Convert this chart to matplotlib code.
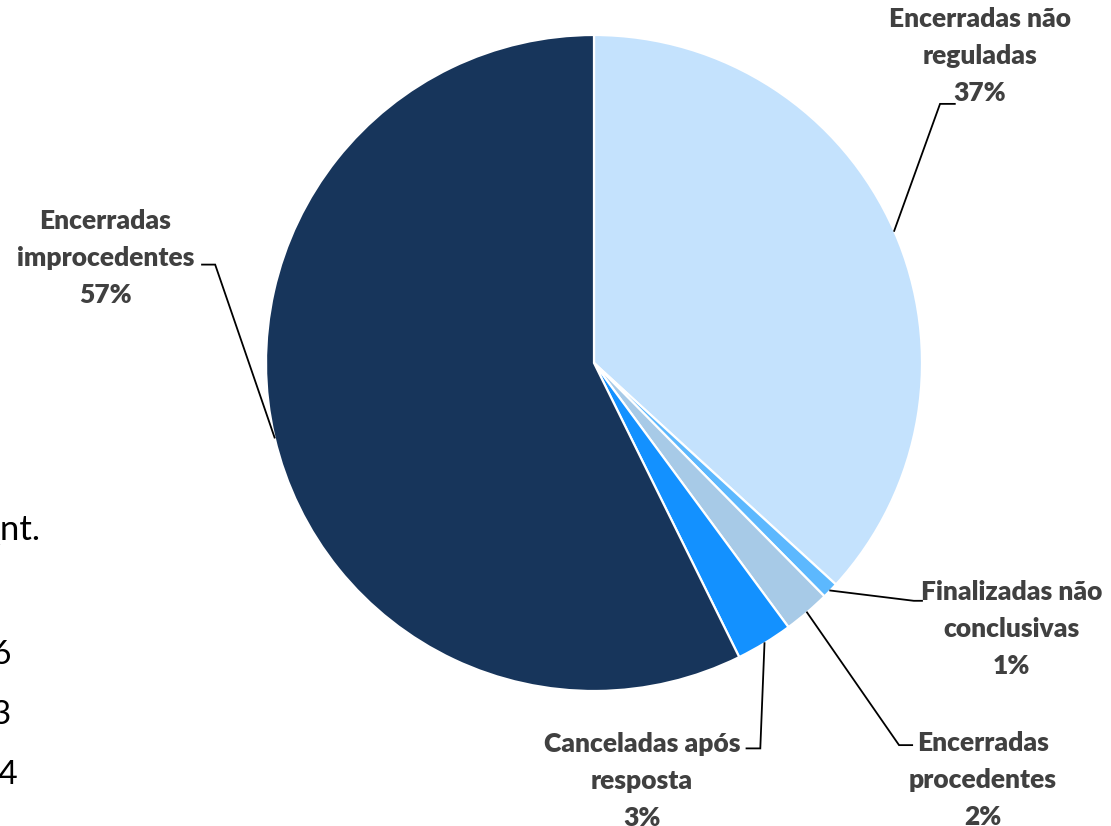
import numpy as np
import matplotlib
matplotlib.use("Agg")
import matplotlib.pyplot as plt

# Distribuição das reclamações por situação final (%)
categorias = ["Encerradas não\nreguladas", "Finalizadas não\nconclusivas",
              "Encerradas\nprocedentes", "Canceladas após\nresposta",
              "Encerradas\nimprocedentes"]
valores = [36.8, 0.8, 2.3, 2.8, 57.3]
cores = ["#C4E2FD", "#5CB8FE", "#A7CAE7", "#1391FF", "#17355B"]

# fragmentos da tabela vizinha (cortada na borda esquerda)
tabela_cab = "Qnt."
tabela_num = ["1.236", "213", "94", "75"]

# posição do texto (centro da linha do meio) e da linha de chamada, em raios
pos_texto = [(1.177, 0.935), (1.274, -0.81), (1.186, -1.271), (0.146, -1.275), (-1.49, 0.32)]
cotovelo = [(1.055, 0.79), (0.975, -0.725), (0.93, -1.165), (0.507, -1.175), (-1.155, 0.30)]
fim_linha = [(1.10, 0.79), (1.0, -0.725), (0.97, -1.165), (0.465, -1.175), (-1.195, 0.30)]

plt.rcParams["font.family"] = ["Lato", "DejaVu Sans"]

fig = plt.figure(figsize=(11.11, 8.26), dpi=100)
ax = fig.add_axes([0, 0, 1, 1])

wedges, _ = ax.pie(valores, colors=cores, startangle=90, counterclock=False,
                   radius=1.0, center=(0, 0),
                   wedgeprops=dict(edgecolor="white", linewidth=1.6))

total = sum(valores)
for w, cat, v, (tx, ty), (ex, ey), (fx, fy) in zip(wedges, categorias, valores,
                                                   pos_texto, cotovelo, fim_linha):
    ang = np.deg2rad((w.theta1 + w.theta2) / 2)
    px, py = np.cos(ang), np.sin(ang)
    ax.plot([px, ex, fx], [py, ey, fy], color="black", lw=1.3,
            solid_joinstyle="miter", zorder=3)
    pct = round(v / total * 100)
    ax.text(tx, ty, f"{cat}\n{pct}%", ha="center", va="center",
            multialignment="center", fontsize=19, fontweight="heavy",
            color="#404040", linespacing=1.65)

# tabela cortada à esquerda
ax.text(0.122 - 1.811, -0.508, tabela_cab, ha="right", va="center",
        fontsize=25, fontweight="normal", color="black")
for i, n in enumerate(tabela_num):
    ax.text(-1.776 + (0.02 if i == 2 else 0), -0.89 - i * 0.183 - (0.03 if i == 3 else 0), n,
            ha="right", va="center", fontsize=24, fontweight="normal", color="black")

ax.set_xlim(-594 / 328, (1111 - 594) / 328)
ax.set_ylim((363 - 826) / 328, 363 / 328)
ax.set_aspect("auto")
ax.axis("off")

fig.savefig("out.png", dpi=100, facecolor="white")
